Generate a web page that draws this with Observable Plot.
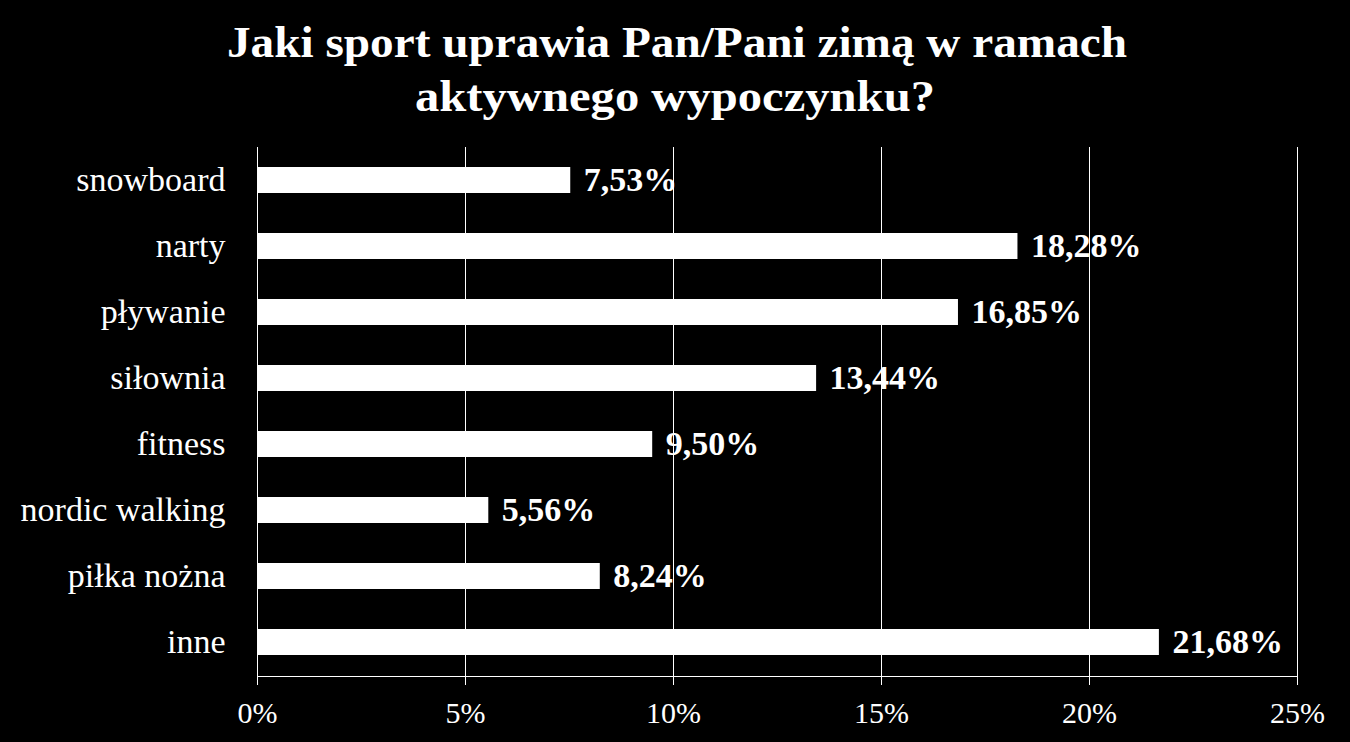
<!DOCTYPE html>
<html>
<head>
<meta charset="utf-8">
<script src="https://cdn.jsdelivr.net/npm/d3@7"></script>
<script src="https://cdn.jsdelivr.net/npm/@observablehq/plot@0.6"></script>
<style>
  html, body { margin: 0; padding: 0; background: #000; }
  #wrap { width: 1350px; height: 742px; background: #000; overflow: hidden; }
  #title { display: block; }
</style>
</head>
<body>
<div id="wrap">
  <svg id="title" width="1350" height="140">
    <text x="677" y="57" text-anchor="middle" fill="#fff" font-family="Liberation Serif" font-weight="bold" font-size="45" textLength="900" lengthAdjust="spacingAndGlyphs">Jaki sport uprawia Pan/Pani zimą w ramach</text>
    <text x="675" y="111" text-anchor="middle" fill="#fff" font-family="Liberation Serif" font-weight="bold" font-size="45" textLength="520" lengthAdjust="spacingAndGlyphs">aktywnego wypoczynku?</text>
  </svg>
</div>
<script>
const categories = ["snowboard", "narty", "pływanie", "siłownia", "fitness", "nordic walking", "piłka nożna", "inne"];
const values = [7.53, 18.28, 16.85, 13.44, 9.50, 5.56, 8.24, 21.68];
const xTicks = [0, 5, 10, 15, 20, 25];

const data = categories.map((c, i) => ({category: c, value: values[i]}));
const fmt = v => v.toFixed(2).replace(".", ",") + "%";

const chart = Plot.plot({
  width: 1350,
  height: 602,
  marginTop: 7,
  marginBottom: 66,
  marginLeft: 257,
  marginRight: 53,
  style: {background: "#000", color: "#fff", fontFamily: "Liberation Serif", fontSize: "30px"},
  x: {domain: [0, 25], ticks: xTicks, tickFormat: d => d + "%", label: null},
  y: {domain: categories, label: null, paddingInner: 0.6, paddingOuter: 0.3},
  marks: [
    Plot.gridX(xTicks, {stroke: "#fff", strokeOpacity: 1, strokeWidth: 1}),
    Plot.frame({anchor: "bottom", stroke: "#fff"}),
    Plot.barX(data, {x: "value", y: "category", fill: "#fff"}),
    Plot.text(data, {x: "value", y: "category", text: d => fmt(d.value), textAnchor: "start", dx: 13, fill: "#fff", fontWeight: "bold", fontSize: 34}),
    Plot.axisX({ticks: xTicks, tickFormat: d => d + "%", tickSize: 9, tickPadding: 16, stroke: "#fff", fontSize: 30, label: null}),
    Plot.axisY({tickSize: 0, tickPadding: 32, fontSize: 34, label: null})
  ]
});
document.getElementById("wrap").appendChild(chart);
</script>
</body>
</html>
